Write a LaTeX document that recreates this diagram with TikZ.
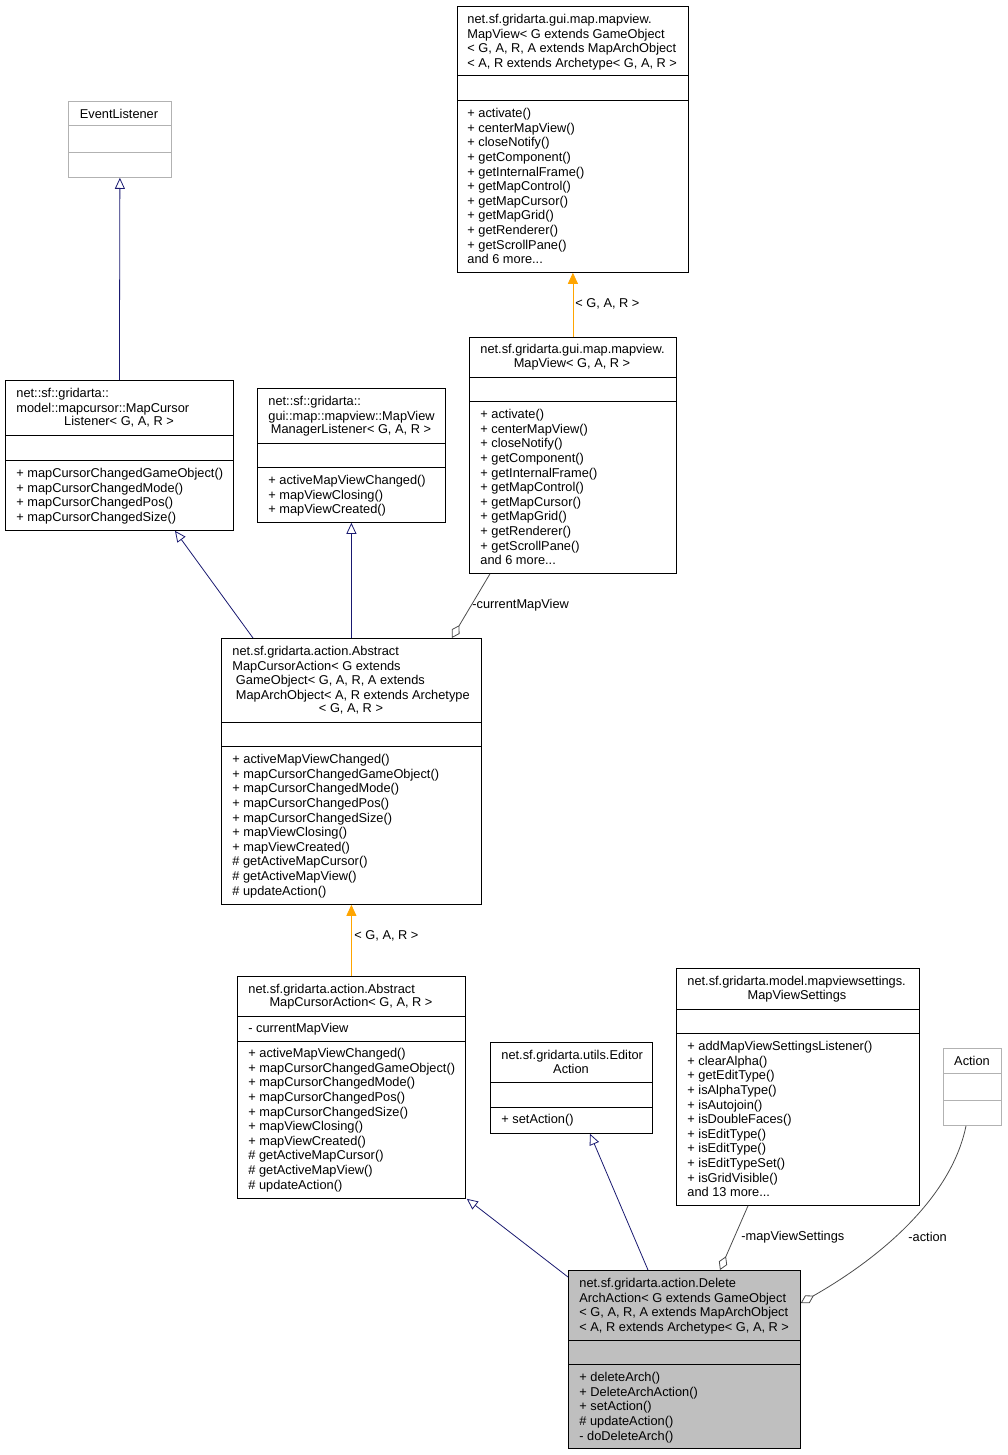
\documentclass[tikz,border=0pt]{standalone}
\usepackage{fontspec}
\setmainfont{Liberation Sans}
\usetikzlibrary{arrows.meta}
\definecolor{navy}{RGB}{25,25,112}
\definecolor{dorange}{RGB}{255,165,0}
\definecolor{hilite}{RGB}{191,191,191}
\begin{document}
\begin{tikzpicture}
        [x=1pt,y=-1pt,line width=0.8pt,
         every node/.style={font=\fontsize{12.8}{14.6}\selectfont,inner sep=0pt},
         cls/.style={draw=black,fill=white,anchor=north west},
         extcls/.style={draw=black!30,fill=white,anchor=north west},
         txt/.style={anchor=north west,align=left},
         inherit/.style={draw=navy,-{Triangle[open,length=11pt,width=10pt]}},
         templ/.style={draw=dorange,-{Triangle[length=11pt,width=10pt]}},
         uses/.style={draw=black!70,-{Diamond[open,length=15pt,width=9pt]}}]
        \useasboundingbox (0,0) rectangle (1007,1455);

        % boxes
        \node[extcls,minimum width=103,minimum height=76] (evl) at (68,101) {};
        \node[cls,minimum width=228,minimum height=150] (mcl) at (5,380) {};
        \node[cls,minimum width=188,minimum height=134] (mvml) at (257,388) {};
        \node[cls,minimum width=231,minimum height=266] (mvg) at (457,6) {};
        \node[cls,minimum width=207,minimum height=236] (mv) at (469,337) {};
        \node[cls,minimum width=260,minimum height=266] (acag) at (221,638) {};
        \node[cls,minimum width=228,minimum height=222] (aca) at (237,976) {};
        \node[cls,minimum width=162,minimum height=91] (eda) at (490,1042) {};
        \node[cls,minimum width=243,minimum height=237] (mvs) at (676,968) {};
        \node[extcls,minimum width=58,minimum height=77] (act) at (943,1048) {};
        \node[cls,fill=hilite,minimum width=232,minimum height=178] (daa) at (568,1270) {};

        % compartment lines
        \draw[black!30] (68,125) -- (171,125) (68,152) -- (171,152);
        \draw (5,435) -- (233,435) (5,460) -- (233,460);
        \draw (257,443) -- (445,443) (257,467) -- (445,467);
        \draw (457,75) -- (688,75) (457,100) -- (688,100);
        \draw (469,377) -- (676,377) (469,401) -- (676,401);
        \draw (221,722) -- (481,722) (221,746) -- (481,746);
        \draw (237,1016) -- (465,1016) (237,1041) -- (465,1041);
        \draw (490,1082) -- (652,1082) (490,1107) -- (652,1107);
        \draw (676,1009) -- (919,1009) (676,1033) -- (919,1033);
        \draw[black!30] (943,1073) -- (1001,1073) (943,1100) -- (1001,1100);
        \draw (568,1340) -- (800,1340) (568,1364) -- (800,1364);

        % names
        \node (evlname) at (119,114) {EventListener};
        \node[txt] (mclname) at (16,388) {net::sf::gridarta::\\model::mapcursor::MapCursor};
        \node (mclname2) at (119,422) {Listener< G, A, R >};
        \node[txt] (mvmlname) at (268,396) {net::sf::gridarta::\\gui::map::mapview::MapView};
        \node (mvmlname2) at (351,430) {ManagerListener< G, A, R >};
        \node[txt] (mvgname) at (467,14) {net.sf.gridarta.gui.map.mapview.\\MapView< G extends GameObject\\< G, A, R, A extends MapArchObject\\< A, R extends Archetype< G, A, R >};
        \node[txt] (mvname) at (480,344) {net.sf.gridarta.gui.map.mapview.};
        \node (mvname2) at (572,364) {MapView< G, A, R >};
        \node[txt] (acagname) at (232,646) {net.sf.gridarta.action.Abstract\\MapCursorAction< G extends\\\ GameObject< G, A, R, A extends\\\ MapArchObject< A, R extends Archetype};
        \node (acagname2) at (351,709) {< G, A, R >};
        \node[txt] (acaname) at (248,984) {net.sf.gridarta.action.Abstract};
        \node (acaname2) at (351,1003) {MapCursorAction< G, A, R >};
        \node[txt] (edaname) at (501,1050) {net.sf.gridarta.utils.Editor};
        \node (edaname2) at (571,1069) {Action};
        \node[txt] (mvsname) at (687,976) {net.sf.gridarta.model.mapviewsettings.};
        \node (mvsname2) at (797,996) {MapViewSettings};
        \node (actname) at (972,1061) {Action};
        \node[txt] (daaname) at (579,1278) {net.sf.gridarta.action.Delete\\ArchAction< G extends GameObject\\< G, A, R, A extends MapArchObject\\< A, R extends Archetype< G, A, R >};

        % members
        \node[txt] (mclops) at (16,468) {+ mapCursorChangedGameObject()\\+ mapCursorChangedMode()\\+ mapCursorChangedPos()\\+ mapCursorChangedSize()};
        \node[txt] (mvmlops) at (268,475) {+ activeMapViewChanged()\\+ mapViewClosing()\\+ mapViewCreated()};
        \node[txt] (mvgops) at (467,108) {+ activate()\\+ centerMapView()\\+ closeNotify()\\+ getComponent()\\+ getInternalFrame()\\+ getMapControl()\\+ getMapCursor()\\+ getMapGrid()\\+ getRenderer()\\+ getScrollPane()\\and 6 more...};
        \node[txt] (mvops) at (480,409) {+ activate()\\+ centerMapView()\\+ closeNotify()\\+ getComponent()\\+ getInternalFrame()\\+ getMapControl()\\+ getMapCursor()\\+ getMapGrid()\\+ getRenderer()\\+ getScrollPane()\\and 6 more...};
        \node[txt] (acagops) at (232,754) {+ activeMapViewChanged()\\+ mapCursorChangedGameObject()\\+ mapCursorChangedMode()\\+ mapCursorChangedPos()\\+ mapCursorChangedSize()\\+ mapViewClosing()\\+ mapViewCreated()\\\# getActiveMapCursor()\\\# getActiveMapView()\\\# updateAction()};
        \node[txt] (acafield) at (248,1023) {- currentMapView};
        \node[txt] (acaops) at (248,1048) {+ activeMapViewChanged()\\+ mapCursorChangedGameObject()\\+ mapCursorChangedMode()\\+ mapCursorChangedPos()\\+ mapCursorChangedSize()\\+ mapViewClosing()\\+ mapViewCreated()\\\# getActiveMapCursor()\\\# getActiveMapView()\\\# updateAction()};
        \node[txt] (edaops) at (501,1114) {+ setAction()};
        \node[txt] (mvsops) at (687,1041) {+ addMapViewSettingsListener()\\+ clearAlpha()\\+ getEditType()\\+ isAlphaType()\\+ isAutojoin()\\+ isDoubleFaces()\\+ isEditType()\\+ isEditType()\\+ isEditTypeSet()\\+ isGridVisible()\\and 13 more...};
        \node[txt] (daaops) at (579,1372) {+ deleteArch()\\+ DeleteArchAction()\\+ setAction()\\\# updateAction()\\- doDeleteArch()};

        % relations
        \foreach \from/\to in {mcl.north/evl.south, acag.north/mvml.south}
        \draw[inherit] (\from) -- (\to);
        \draw[inherit] ([xshift=32]acag.north west) -- ([xshift=170]mcl.south west);
        \draw[inherit] ([yshift=-7]daa.north west) -- ([xshift=1]aca.south east);
        \draw[inherit] ([xshift=80]daa.north west) -- ([xshift=100]eda.south west);
        \foreach \from/\to in {mv.north/mvg.south, aca.north/acag.south}
        \draw[templ] (\from) -- (\to);
        \draw[uses] ([xshift=21]mv.south west) -- ([xshift=-30]acag.north east);
        \draw[uses] ([xshift=72]mvs.south west) -- ([xshift=152]daa.north west);
        \draw[uses] ([xshift=23]act.south west) .. controls (952,1195) and (885,1255) .. ([yshift=-33]daa.north east);

        % labels
        \node[anchor=west] (lbl1) at (575,304) {< G, A, R >};
        \node[anchor=west] (lbl2) at (472,605) {-currentMapView};
        \node[anchor=west] (lbl3) at (354,936) {< G, A, R >};
        \node[anchor=west] (lbl4) at (741,1237) {-mapViewSettings};
        \node[anchor=west] (lbl5) at (908,1237) {-action};
\end{tikzpicture}
\end{document}
